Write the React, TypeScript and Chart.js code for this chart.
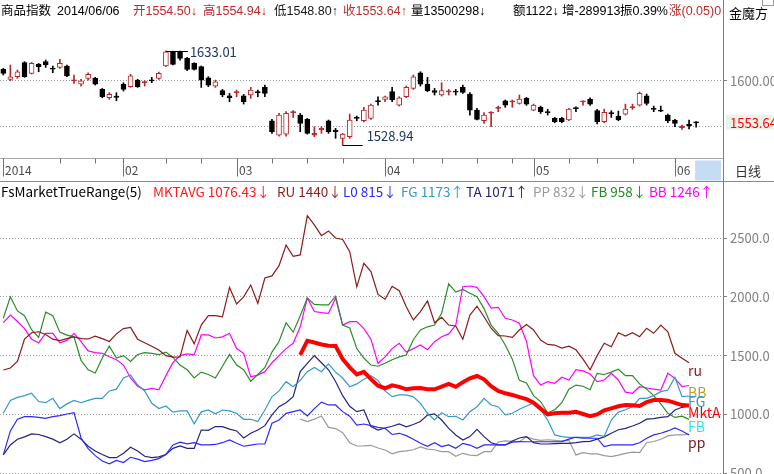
import React, { useEffect, useRef } from "react";
import { Chart, registerables } from "chart.js";
Chart.register(...registerables);

const FONT = '"Noto Sans CJK SC", "Noto Sans", sans-serif';
const HFONT = '"Liberation Sans", "Noto Sans CJK SC", sans-serif';

// ---------- price (candlestick) data, index 0..98 ----------
const OPEN = [1612.5,1601.5,1604.4,1619.9,1608.1,1618.0,1621.0,1613.6,1614.7,1616.2,1600.0,1596.3,1602.6,1602.6,1590.4,1581.2,1583.1,1596.0,1593.4,1600.7,1597.8,1600.7,1602.6,1616.2,1632.0,1632.0,1624.6,1619.1,1615.5,1603.3,1594.1,1589.0,1583.4,1586.8,1583.4,1584.2,1587.9,1592.6,1555.8,1540.0,1541.1,1564.7,1562.1,1557.3,1540.0,1545.6,1555.8,1545.6,1536.4,1538.2,1559.5,1555.8,1558.4,1577.9,1579.4,1587.9,1573.1,1582.3,1591.5,1608.8,1596.3,1589.0,1584.2,1587.9,1588.6,1592.6,1585.3,1567.6,1555.8,1564.3,1569.5,1577.9,1576.8,1575.0,1580.5,1567.6,1570.6,1565.8,1558.4,1558.4,1556.6,1570.2,1576.8,1579.4,1566.9,1554.7,1564.7,1561.0,1563.2,1570.6,1573.1,1583.4,1569.5,1567.6,1562.1,1556.6,1548.1,1551.8,1554.5];
const HIGH = [1613.6,1617.3,1611.8,1621.0,1620.2,1619.1,1622.8,1616.2,1623.5,1617.3,1606.3,1601.5,1608.8,1603.7,1591.5,1586.8,1586.8,1597.8,1607.0,1601.5,1600.0,1603.7,1609.6,1633.01,1632.8,1632.6,1625.8,1619.9,1616.2,1604.4,1600.7,1590.4,1586.0,1589.7,1584.9,1592.6,1589.7,1595.2,1557.3,1563.9,1565.8,1566.9,1563.9,1558.4,1549.2,1549.2,1556.6,1547.4,1541.9,1563.2,1561.0,1570.6,1574.2,1582.3,1583.1,1592.6,1582.3,1594.1,1606.3,1609.9,1603.7,1591.5,1597.8,1590.4,1590.4,1595.2,1586.8,1569.5,1564.7,1565.8,1572.0,1578.7,1578.7,1584.2,1581.6,1574.2,1572.0,1568.4,1559.5,1559.5,1569.5,1571.3,1577.9,1581.2,1568.4,1568.7,1566.9,1566.5,1574.2,1574.2,1587.5,1585.3,1572.0,1572.0,1563.2,1557.3,1551.1,1556.6,1554.94];
const LOW = [1606.3,1600.0,1602.6,1603.7,1607.4,1609.9,1614.7,1608.8,1613.6,1604.4,1597.1,1594.1,1600.7,1595.2,1581.2,1579.4,1577.9,1588.6,1592.6,1592.6,1594.1,1597.8,1601.5,1615.5,1617.3,1622.8,1611.0,1611.8,1592.6,1593.4,1592.6,1582.3,1576.8,1582.3,1574.2,1580.5,1582.3,1582.3,1541.9,1538.9,1538.9,1559.5,1543.7,1541.1,1538.2,1541.9,1541.9,1536.4,1528.94,1536.4,1555.8,1554.4,1557.3,1573.1,1576.8,1576.8,1572.0,1581.2,1590.4,1594.1,1587.9,1584.2,1583.1,1584.2,1584.2,1586.0,1562.1,1556.6,1552.9,1549.2,1565.8,1570.6,1570.6,1574.2,1572.8,1566.9,1563.9,1562.1,1553.6,1553.6,1555.8,1565.8,1573.1,1572.8,1552.2,1553.6,1559.5,1555.8,1562.1,1568.4,1572.0,1573.1,1565.8,1565.8,1553.6,1549.2,1546.3,1546.7,1548.8];
const CLOSE = [1608.1,1604.4,1609.9,1604.4,1619.1,1615.5,1617.3,1612.9,1619.1,1605.2,1600.7,1600.0,1607.0,1596.3,1582.3,1584.9,1581.6,1590.4,1605.5,1593.4,1598.9,1600.0,1608.1,1632.0,1618.0,1624.6,1612.5,1612.5,1600.7,1595.2,1598.9,1584.2,1581.2,1587.9,1576.8,1589.7,1586.8,1586.0,1543.7,1562.1,1563.9,1565.8,1552.9,1541.9,1541.9,1547.4,1543.7,1543.7,1541.1,1556.6,1558.4,1567.6,1573.1,1576.8,1582.3,1578.7,1581.2,1592.6,1604.4,1596.3,1589.0,1587.1,1589.0,1588.6,1587.5,1587.1,1567.6,1557.3,1562.1,1565.0,1570.6,1573.1,1577.6,1579.8,1574.2,1573.1,1565.8,1564.7,1554.7,1554.7,1568.7,1569.5,1577.6,1574.2,1554.7,1565.0,1563.9,1556.6,1568.7,1571.3,1586.0,1575.0,1568.4,1566.5,1555.8,1552.9,1550.0,1550.3,1553.64];

const MONTH_TICK_INDEX = [0, 17, 33, 54, 75, 95];
const MONTH_TICK_LABELS = ["2014", "02", "03", "04", "05", "06"];
const WEEK_TICK_INDEX = [8, 13, 23, 28, 38, 43, 48, 58, 62, 67, 72, 80, 84, 89];

const PRICE_GRID = [1550, 1600];
const LAST_CLOSE = 1553.64;
const IND_TICKS = [500, 1000, 1500, 2000, 2500];

// ---------- indicator series (FsMarketTrueRange) ----------
const RU = [1378,1395,1450,1640,1695,1703,1680,1640,1628,1645,1660,1645,1642,1665,1645,1620,1685,1730,1740,1640,1610,1580,1548,1500,1487,1490,1715,1600,1760,1840,1840,1830,2080,1940,2000,2100,1945,2160,2178,2265,2440,2345,2356,2690,2612,2520,2560,2500,2488,2384,2085,2285,2215,2020,1980,2090,2052,1916,1803,1874,1965,1780,1826,1760,1752,1640,1845,1920,1831,1733,1670,1667,1656,1718,1765,1718,1633,1595,1590,1565,1580,1550,1470,1380,1500,1605,1576,1695,1667,1695,1661,1733,1690,1760,1703,1520,1477,1440];
const L0 = [656,860,960,981,981,975,967,981,990,1004,1015,800,710,650,605,580,610,592,636,620,600,610,625,660,741,765,750,760,741,741,745,760,783,755,730,740,749,749,925,953,1010,1024,1038,987,1050,1105,1081,1081,1024,985,910,919,905,891,882,830,840,820,790,755,730,760,727,741,712,755,740,712,741,741,741,741,765,769,768,768,768,768,768,769,790,806,798,798,798,727,741,741,741,741,760,798,826,840,860,885,860,826];
const FG = [1010,1120,1145,1160,1180,1110,1100,1137,1050,1090,1120,1100,1120,1137,1137,1200,1215,1310,1336,1250,1200,1095,1050,1072,1020,1030,1030,920,1022,1038,1005,1038,1030,1010,959,959,940,1038,1150,1200,1279,1236,1290,1364,1400,1364,1430,1360,1310,1236,1260,1300,1330,1290,1200,1151,1166,1166,1150,1095,1010,953,1015,981,985,953,1024,1066,1137,1080,1066,996,1010,1044,1072,1095,1040,953,826,812,806,806,806,806,826,815,953,1020,1040,1066,1137,1137,1160,1194,1208,1316,1151,1157];
const TA = [656,741,790,810,835,830,812,790,760,790,835,790,730,690,660,633,633,670,721,690,645,633,640,660,712,732,712,712,868,865,897,897,875,860,800,840,868,905,996,1066,1100,1151,1364,1435,1500,1440,1380,1280,1160,1070,1024,1038,897,868,885,900,919,895,915,940,995,1005,953,882,826,783,812,874,812,760,741,741,775,800,812,760,749,749,752,755,755,760,769,772,790,810,840,870,882,902,925,960,965,975,981,1038,1061,1071];
const FB = [1818,2000,1880,1840,1720,1655,1870,1840,1700,1675,1660,1460,1380,1352,1480,1580,1480,1500,1450,1510,1525,1520,1508,1530,1485,1420,1380,1310,1360,1340,1310,1410,1510,1420,1380,1282,1340,1400,1530,1620,1780,1700,1840,1990,1935,1931,1931,2005,1760,1735,1560,1480,1420,1410,1435,1465,1490,1505,1635,1718,1745,1760,1860,2110,2040,2062,2030,2001,1900,1760,1690,1590,1470,1290,1268,1160,1110,1015,1040,1100,1215,1250,1240,1210,1350,1340,1360,1384,1330,1330,1260,1215,1160,1090,1010,975,985,958];
const BB = [1781,1845,1790,1730,1640,1610,1690,1690,1610,1630,1690,1620,1540,1525,1520,1490,1465,1420,1310,1240,1210,1222,1210,1330,1440,1500,1515,1506,1676,1676,1650,1660,1690,1560,1520,1320,1335,1364,1440,1500,1560,1605,1745,1990,1875,1865,1860,1990,1760,1789,1790,1730,1640,1435,1490,1560,1605,1530,1560,1590,1550,1619,1661,1685,1760,2086,2092,2081,2001,1905,1911,1818,1803,1775,1620,1330,1250,1279,1265,1316,1293,1380,1370,1344,1279,1293,1350,1293,1190,1180,1236,1225,1215,1208,1350,1307,1236,1246];
const MKTAVG_START = 42;
const MKTAVG = [1506,1627,1612,1595,1585,1582,1470,1400,1340,1362,1300,1245,1223,1248,1235,1214,1222,1225,1215,1214,1236,1259,1235,1275,1307,1327,1299,1240,1200,1180,1166,1148,1130,1100,1050,1000,1010,1015,1015,1022,1004,985,1000,1035,1052,1070,1080,1078,1072,1105,1122,1123,1117,1098,1080,1076];
const PP_START = 42;
const PP = [960,940,960,987,890,880,845,760,732,733,738,715,698,665,684,690,700,725,705,700,684,684,645,670,655,650,684,684,765,775,772,769,810,790,780,785,780,775,780,656,675,665,665,650,641,655,670,680,675,760,770,789,818,826,826,832];

const END_LABELS = ["ru", "BB", "FG", "MktA", "FB", "pp"];
const END_LABEL_VALUES = [1371, 1183, 1106, 1013, 894, 758];
const END_LABEL_COLORS = ["#8c1c1c", "#b5a030", "#3399cc", "#ff0000", "#22e8f0", "#7a1515"];

const HEADER_TEXT = ["商品指数", "2014/06/06", "开1554.50↓", "高1554.94↓", "低1548.80↑", "收1553.64↑", "量13500298↓", "额1122↓", "增-289913", "振0.39%", "涨(0.05)0.03%"];
const HEADER_X = [1, 57, 133, 203, 274, 343, 411, 513, 562, 620, 669];
const HEADER_COLOR = ["#000", "#000", "#c02a2a", "#c02a2a", "#1a1a1a", "#b83232", "#000", "#000", "#000", "#000", "#c02a2a"];

const LEGEND_TEXT = ["FsMarketTrueRange(5)", "MKTAVG 1076.43↓", "RU 1440↓", "L0 815↓", "FG 1173↑", "TA 1071↑", "PP 832↓", "FB 958↓", "BB 1246↑"];
const LEGEND_X = [1, 153, 277, 343, 401, 466, 533, 591, 649];
const LEGEND_COLOR = ["#000", "#ff1a1a", "#8c1c1c", "#2a2aff", "#3399cc", "#24247a", "#999999", "#1e8c1e", "#ff00ff"];

const X_MIN = -0.467;
const X_MAX = 101.8;
const UP = "#b8282a";

export default function App() {
  const topRef = useRef<HTMLCanvasElement>(null);
  const botRef = useRef<HTMLCanvasElement>(null);

  useEffect(() => {
    const isUp = (i: number) => CLOSE[i] >= OPEN[i];
    const wickData = HIGH.map((h, i) => ({ x: i, y: [LOW[i], h] }));
    const bodyData = OPEN.map((o, i) => {
      const c = CLOSE[i];
      let lo = Math.min(o, c), hi = Math.max(o, c);
      if (hi - lo < 1.2) { const m = (hi + lo) / 2; lo = m - 0.6; hi = m + 0.6; }
      return { x: i, y: [lo, hi] };
    });
    const bodyFill = OPEN.map((o, i) => {
      const small = Math.abs(CLOSE[i] - o) < 2.5;
      if (isUp(i)) return small ? UP : "#ffffff";
      return "#000000";
    });

    const priceExtras = {
      id: "priceExtras",
      beforeDraw(chart: any) {
        const { ctx, scales } = chart;
        const y = scales.y;
        const py = y.getPixelForValue(LAST_CLOSE);
        ctx.save();
        ctx.fillStyle = "#e9f4e9";
        ctx.fillRect(726, py - 8, 48, 15);
        ctx.restore();
      },
      afterDraw(chart: any) {
        const { ctx, chartArea, scales } = chart;
        const x = scales.x, y = scales.y;
        ctx.save();
        let hi = 0, lo = 0;
        HIGH.forEach((h, i) => { if (h > HIGH[hi]) hi = i; });
        LOW.forEach((l, i) => { if (l < LOW[lo]) lo = i; });
        ctx.strokeStyle = "#000";
        ctx.lineWidth = 1;
        const hx = x.getPixelForValue(hi), hy = Math.round(y.getPixelForValue(HIGH[hi])) + 0.5;
        ctx.beginPath(); ctx.moveTo(hx, hy); ctx.lineTo(hx + 22, hy); ctx.stroke();
        const lx = x.getPixelForValue(lo), ly = Math.round(y.getPixelForValue(LOW[lo])) + 0.5;
        ctx.beginPath(); ctx.moveTo(lx, ly); ctx.lineTo(lx + 20, ly); ctx.stroke();
        ctx.font = `13px ${FONT}`;
        ctx.fillStyle = "#1c3766";
        ctx.textBaseline = "middle";
        ctx.fillText(HIGH[hi].toFixed(2), hx + 24, hy + 1);
        ctx.fillText(LOW[lo].toFixed(2), lx + 24, ly - 9);

        // date axis row
        const top = chartArea.bottom + 0.5;
        const bottom = 181.5;
        ctx.fillStyle = "#c5dcf4";
        const bx = x.getPixelForValue(98) - 1;
        ctx.fillRect(bx, top + 2, chartArea.right - 2 - bx, bottom - top - 3);
        ctx.strokeStyle = "#a8a8a8";
        ctx.beginPath(); ctx.moveTo(0, top); ctx.lineTo(chartArea.right, top); ctx.stroke();
        ctx.strokeStyle = "#8a8a8a";
        ctx.beginPath(); ctx.moveTo(0, bottom); ctx.lineTo(774, bottom); ctx.stroke();
        ctx.strokeStyle = "#707070";
        MONTH_TICK_INDEX.forEach((idx) => {
          const px = Math.round(x.getPixelForValue(idx)) + 0.5;
          ctx.beginPath(); ctx.moveTo(px, top); ctx.lineTo(px, top + 18); ctx.stroke();
        });
        WEEK_TICK_INDEX.forEach((idx) => {
          const px = Math.round(x.getPixelForValue(idx)) + 0.5;
          ctx.beginPath(); ctx.moveTo(px, top); ctx.lineTo(px, top + 5); ctx.stroke();
        });
        ctx.font = `12px ${FONT}`;
        ctx.fillStyle = "#4a4a4a";
        ctx.textBaseline = "middle";
        MONTH_TICK_INDEX.forEach((idx, k) => {
          const px = Math.round(x.getPixelForValue(idx));
          ctx.fillText(MONTH_TICK_LABELS[k], px + 2, top + 12);
        });
        ctx.restore();
      },
    };

    const topChart = new Chart(topRef.current as HTMLCanvasElement, {
      type: "bar",
      data: {
        datasets: [
          {
            data: wickData as any,
            backgroundColor: HIGH.map((_, i) => (isUp(i) ? UP : "#000")),
            borderWidth: 0,
            barThickness: 1,
            grouped: false,
            order: 2,
          } as any,
          {
            data: bodyData as any,
            backgroundColor: bodyFill,
            borderColor: OPEN.map((_, i) => (isUp(i) ? UP : "#000")),
            borderWidth: 1,
            borderSkipped: false,
            barThickness: 5,
            grouped: false,
            order: 1,
          } as any,
        ],
      },
      options: {
        animation: false,
        responsive: false,
        maintainAspectRatio: false,
        layout: { padding: { top: 22, bottom: 24, left: 0, right: 0 } },
        plugins: { legend: { display: false }, tooltip: { enabled: false } },
        scales: {
          x: { type: "linear", min: X_MIN, max: X_MAX, offset: false, display: false, grid: { offset: false } },
          y: {
            position: "right",
            min: 1514.7,
            max: 1664.8,
            afterFit: (s: any) => { s.width = 51; s.paddingTop = 0; s.paddingBottom = 0; },
            afterBuildTicks: (s: any) => { s.ticks = [...PRICE_GRID, LAST_CLOSE].sort((a, b) => a - b).map((v) => ({ value: v })); },
            ticks: {
              autoSkip: false,
              padding: 3,
              font: { family: FONT, size: 13 },
              color: (c: any) => (c.tick && c.tick.value === LAST_CLOSE ? "#ff0000" : "#808080"),
              callback: (v: any) => (v === LAST_CLOSE ? LAST_CLOSE.toFixed(2) : v === 1600 ? Number(v).toFixed(2) : ""),
            },
            grid: {
              color: (c: any) => (c.tick && c.tick.value === LAST_CLOSE ? "rgba(0,0,0,0)" : "#9a9a9a"),
              tickColor: (c: any) => (c.tick && c.tick.value === 1600 ? "#808080" : "rgba(0,0,0,0)"),
              tickLength: 4,
            },
            border: { display: true, color: "#7f7f7f", width: 1, dash: [1, 2] },
          } as any,
        },
      },
      plugins: [priceExtras],
    });

    const line = (values: number[], start: number, color: string, width: number) => ({
      type: "line",
      data: values.map((v, j) => ({ x: start + j, y: v })),
      borderColor: color,
      borderWidth: width,
      pointRadius: 0,
      tension: 0,
      fill: false,
    });

    const endLabels = {
      id: "endLabels",
      afterDatasetsDraw(chart: any) {
        const { ctx, scales } = chart;
        const x = scales.x, y = scales.y;
        const px = x.getPixelForValue(RU.length - 1) - 1;
        ctx.save();
        ctx.font = `14px ${FONT}`;
        ctx.textBaseline = "middle";
        END_LABELS.forEach((t, k) => {
          ctx.fillStyle = END_LABEL_COLORS[k];
          ctx.fillText(t, px, y.getPixelForValue(END_LABEL_VALUES[k]));
        });
        ctx.restore();
      },
    };

    const botChart = new Chart(botRef.current as HTMLCanvasElement, {
      type: "line",
      data: {
        datasets: [
          line(MKTAVG, MKTAVG_START, "#ff0000", 4),
          line(RU, 0, "#8c1c1c", 1.2),
          line(L0, 0, "#2a2aff", 1.2),
          line(FG, 0, "#3399cc", 1.2),
          line(TA, 0, "#24247a", 1.2),
          line(PP, PP_START, "#9a9a9a", 1.2),
          line(FB, 0, "#2b8c2b", 1.2),
          line(BB, 0, "#ff00ff", 1.2),
        ] as any,
      },
      options: {
        animation: false,
        responsive: false,
        maintainAspectRatio: false,
        layout: { padding: { top: 18, bottom: 0, left: 0, right: 0 } },
        plugins: { legend: { display: false }, tooltip: { enabled: false } },
        scales: {
          x: { type: "linear", min: X_MIN, max: X_MAX, offset: false, display: false },
          y: {
            position: "right",
            min: 494,
            max: 2823,
            afterFit: (s: any) => { s.width = 51; s.paddingTop = 0; s.paddingBottom = 0; },
            afterBuildTicks: (s: any) => { s.ticks = IND_TICKS.map((v) => ({ value: v })); },
            ticks: {
              autoSkip: false,
              padding: 3,
              font: { family: FONT, size: 13 },
              color: "#808080",
              callback: (v: any) => Number(v).toFixed(1),
            },
            grid: { color: "#9a9a9a", tickColor: "#808080", tickLength: 4 },
            border: { display: true, color: "#7f7f7f", width: 1, dash: [1, 2] },
          } as any,
        },
      },
      plugins: [endLabels],
    });

    return () => {
      topChart.destroy();
      botChart.destroy();
    };
  }, []);

  return (
    <div style={{ position: "absolute", left: 0, top: 0, width: 774, height: 474, background: "#fff", overflow: "hidden", fontFamily: FONT }}>
      <canvas ref={topRef} width={774} height={182} style={{ position: "absolute", left: 0, top: 0, width: 774, height: 182 }} />
      <canvas ref={botRef} width={774} height={292} style={{ position: "absolute", left: 0, top: 182, width: 774, height: 292 }} />
      <div style={{ position: "absolute", left: 0, top: 0, width: 722, height: 22, overflow: "hidden", fontSize: 12.5, fontFamily: HFONT }}>
        {HEADER_TEXT.map((t, k) => (
          <span key={k} style={{ position: "absolute", left: HEADER_X[k], top: 3, lineHeight: "17px", whiteSpace: "nowrap", color: HEADER_COLOR[k] }}>{t}</span>
        ))}
      </div>
      <div style={{ position: "absolute", left: 0, top: 182, width: 722, height: 18, overflow: "hidden", fontSize: 13.5 }}>
        {LEGEND_TEXT.map((t, k) => (
          <span key={k} style={{ position: "absolute", left: LEGEND_X[k], top: 0, lineHeight: "18px", whiteSpace: "nowrap", color: LEGEND_COLOR[k] }}>{t}</span>
        ))}
      </div>
      <div style={{ position: "absolute", left: 723, top: 0, width: 1, height: 474, background: "#7f7f7f" }} />
      <div style={{ position: "absolute", left: 729, top: 4, fontSize: 13, lineHeight: "18px", color: "#000" }}>金魔方</div>
      <div style={{ position: "absolute", left: 762, top: 0, width: 10, height: 5, border: "1px solid #9a9a9a", borderTop: "none" }} />
      <div style={{ position: "absolute", left: 735, top: 162, fontSize: 13, lineHeight: "18px", color: "#333" }}>日线</div>
    </div>
  );
}
